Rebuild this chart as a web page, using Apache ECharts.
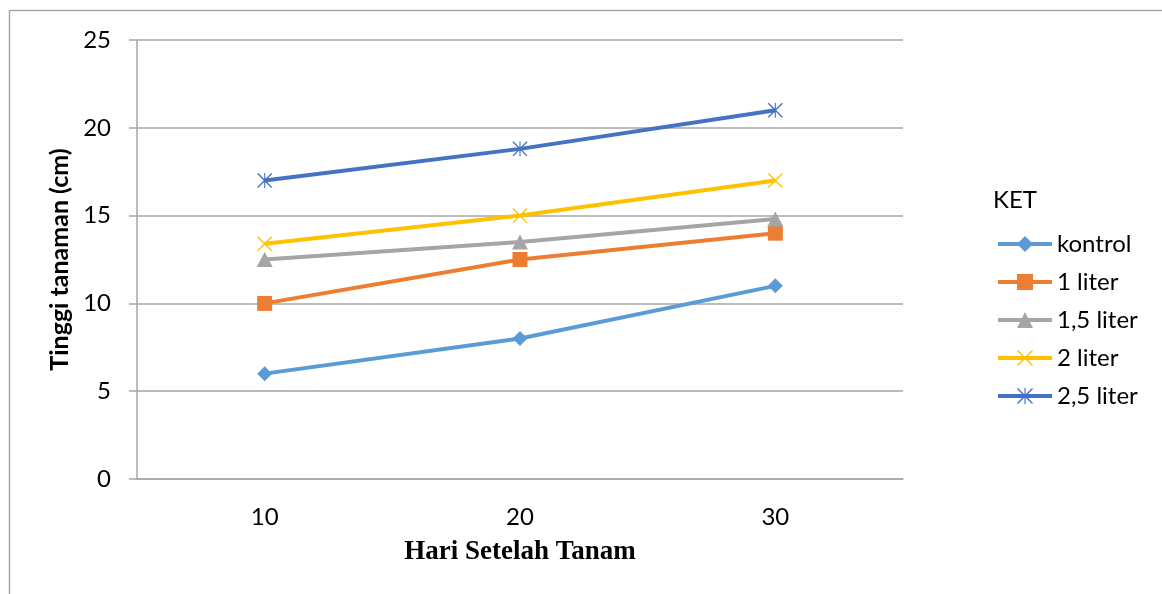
<!DOCTYPE html>
<html>
<head>
<meta charset="utf-8">
<script src="https://cdn.jsdelivr.net/npm/echarts@6/dist/echarts.min.js"></script>
<style>html,body{margin:0;padding:0;background:#fff}#c{width:1162px;height:594px}</style>
</head>
<body>
<div id="c"></div>
<script>
var categories = ['10', '20', '30'];
var seriesNames = ['kontrol', '1 liter', '1,5 liter', '2 liter', '2,5 liter'];
var kontrol = [6, 8, 11];
var liter1 = [10, 12.5, 14];
var liter15 = [12.5, 13.5, 14.8];
var liter2 = [13.4, 15, 17];
var liter25 = [17, 18.8, 21];
var yTicks = [0, 5, 10, 15, 20, 25];

var colors = ['#5B9BD5', '#ED7D31', '#A5A5A5', '#FFC000', '#4472C4'];
var xPath = 'path://M0,0.9L0.9,0L14,13.1L13.1,14Z M13.1,0L14,0.9L0.9,14L0,13.1Z';
var starPath = 'path://M0,0.9L0.9,0L14,13.1L13.1,14Z M13.1,0L14,0.9L0.9,14L0,13.1Z M6.5,0L7.5,0L7.5,14L6.5,14Z';
var symbols = ['diamond', 'rect', 'triangle', xPath, starPath];
var sizes = [[15, 15], [15, 15], [16, 15], [15, 15], [15, 15]];
var datas = [kontrol, liter1, liter15, liter2, liter25];

var font = 'Lato, "Open Sans", sans-serif';
var series = seriesNames.map(function (n, i) {
  return {
    name: n, type: 'line', data: datas[i],
    symbol: symbols[i], symbolSize: sizes[i], showSymbol: true,
    lineStyle: { color: colors[i], width: 4 },
    itemStyle: { color: colors[i] },
    emphasis: { disabled: true },
    z: 2 + i
  };
});

var chart = echarts.init(document.getElementById('c'));
chart.setOption({
  animation: false,
  color: colors,
  grid: { left: 137, right: 259, top: 40, bottom: 115 },
  title: { text: 'KET', left: 988, top: 183, textStyle: { fontFamily: font, fontSize: 24, fontWeight: 'normal', color: '#000' } },
  legend: {
    orient: 'vertical', left: 991, top: 227,
    itemWidth: 54, itemHeight: 20, itemGap: 14,
    data: seriesNames,
    lineStyle: { width: 4 },
    textStyle: { fontFamily: font, fontSize: 24, color: '#000' }
  },
  xAxis: {
    type: 'category', data: categories, boundaryGap: true,
    name: 'Hari Setelah Tanam', nameLocation: 'middle', nameGap: 60,
    nameTextStyle: { fontFamily: '"Liberation Serif", "Times New Roman", serif', fontSize: 27, fontWeight: 'bold', color: '#000' },
    axisLine: { lineStyle: { color: '#A6A6A6', width: 1.5 } },
    axisTick: { show: false },
    axisLabel: { fontFamily: font, fontSize: 24, color: '#000', margin: 26 }
  },
  yAxis: {
    type: 'value', min: 0, max: 25, interval: 5,
    name: 'Tinggi tanaman (cm)', nameLocation: 'middle', nameGap: 60, nameRotate: 90,
    nameTextStyle: { fontFamily: font, fontSize: 25, fontWeight: 'bold', color: '#000' },
    axisLine: { show: true, lineStyle: { color: '#A6A6A6', width: 1.5 } },
    axisTick: { show: true, length: 8, lineStyle: { color: '#A6A6A6', width: 1.5 } },
    splitLine: { lineStyle: { color: '#A6A6A6', width: 1.5 } },
    axisLabel: { fontFamily: font, fontSize: 24, color: '#000', margin: 26,
      formatter: function (v) { return yTicks.indexOf(v) >= 0 ? String(v) : ''; } }
  },
  graphic: [
    { type: 'line', shape: { x1: 10, y1: 10.5, x2: 1162, y2: 10.5 }, style: { stroke: '#A6A6A6', lineWidth: 1.5 }, silent: true },
    { type: 'line', shape: { x1: 9.5, y1: 10, x2: 9.5, y2: 594 }, style: { stroke: '#A6A6A6', lineWidth: 1.5 }, silent: true }
  ],
  series: series
});
</script>
</body>
</html>
